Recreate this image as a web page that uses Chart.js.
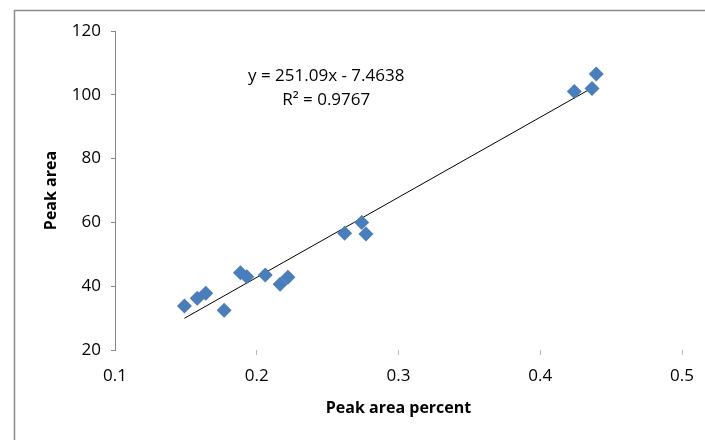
<!DOCTYPE html>
<html>
<head>
<meta charset="utf-8">
<script src="https://cdn.jsdelivr.net/npm/chart.js@4"></script>
<style>
  html, body { margin: 0; padding: 0; background: #fff; }
  canvas { display: block; }
</style>
</head>
<body>
<canvas id="peak" width="705" height="440"></canvas>
<script>
const chartCanvas = document.getElementById('peak');

// peak area percent (x) vs peak area (y)
var percent = [0.149, 0.158, 0.164, 0.177, 0.1885, 0.193, 0.206, 0.2165, 0.222,
               0.262, 0.274, 0.277, 0.424, 0.4365, 0.4395];
var area = [33.8, 36.2, 37.8, 32.5, 44.2, 43.0, 43.5, 40.6, 42.8,
            56.6, 60.0, 56.4, 101.0, 102.0, 106.5];

// linear trendline as printed on the chart
var slope = 251.09;
var intercept = -7.4638;
var equationText = 'y = 251.09x - 7.4638';
var r2Text = 'R\u00B2 = 0.9767';

var xMin = Math.min.apply(null, percent);
var xMax = Math.max.apply(null, percent);
var trend = [
  { x: xMin, y: slope * xMin + intercept },
  { x: xMax, y: slope * xMax + intercept }
];

var points = percent.map(function(p, i) {
  return { x: p, y: area[i] };
});

const axisGrey = '#868686';
const fontFamily = "'Open Sans', 'Liberation Sans', sans-serif";

// grey frame of the chart object, only top and left edges show
const framePlugin = {
  id: 'frame',
  beforeDraw(chart) {
    const ctx = chart.ctx;
    ctx.save();
    ctx.fillStyle = '#ffffff';
    ctx.fillRect(0, 0, chart.width, chart.height);
    ctx.strokeStyle = '#8c8c8c';
    ctx.lineWidth = 1.5;
    ctx.beginPath();
    ctx.moveTo(14.5, chart.height + 5);
    ctx.lineTo(14.5, 10.5);
    ctx.lineTo(chart.width + 5, 10.5);
    ctx.stroke();
    ctx.restore();
  }
};

// trendline label
const equationPlugin = {
  id: 'equation',
  afterDatasetsDraw(chart) {
    const ctx = chart.ctx;
    const xs = chart.scales.x;
    const ys = chart.scales.y;
    const cx = xs.getPixelForValue(0.249);
    ctx.save();
    ctx.fillStyle = '#000';
    ctx.font = '17px ' + fontFamily;
    ctx.textAlign = 'center';
    ctx.textBaseline = 'middle';
    ctx.fillText(equationText, cx, ys.getPixelForValue(106.0));
    ctx.fillText(r2Text, cx, ys.getPixelForValue(98.4));
    ctx.restore();
  }
};

const peakData = {
  datasets: [
    {
      label: 'Peak area',
      data: points,
      pointStyle: 'rectRot',
      pointRadius: 7.5,
      pointHoverRadius: 7.5,
      backgroundColor: '#4a7ebb',
      borderColor: '#4a7ebb',
      borderWidth: 0,
      showLine: false,
      order: 1
    },
    {
      label: 'Linear',
      type: 'line',
      data: trend,
      borderColor: '#000',
      borderWidth: 1,
      pointRadius: 0,
      fill: false,
      order: 2
    }
  ]
};

const peakConfig = {
  type: 'scatter',
  data: peakData,
  options: {
    responsive: false,
    animation: false,
    layout: {
      padding: { top: 31, right: 18, bottom: 0, left: 0 }
    },
    plugins: {
      legend: { display: false },
      tooltip: { enabled: false }
    },
    scales: {
      x: {
        type: 'linear',
        min: 0.1,
        max: 0.5,
        ticks: {
          stepSize: 0.1,
          color: '#000',
          padding: 11,
          font: { family: fontFamily, size: 17 },
          callback: function(v) { return v.toFixed(1); }
        },
        border: { display: false },
        grid: {
          drawOnChartArea: false,
          tickLength: 5,
          color: function(c) { return c.index === 0 ? 'rgba(0,0,0,0)' : '#b8b8b8'; }
        },
        title: {
          display: true,
          text: 'Peak area percent',
          color: '#000',
          padding: { top: 0, bottom: 22 },
          font: { family: fontFamily, size: 16, weight: 'bold' }
        },
        afterFit: function(scale) { scale.height = 90; }
      },
      y: {
        type: 'linear',
        min: 20,
        max: 120,
        ticks: {
          stepSize: 20,
          color: '#000',
          padding: 10,
          font: { family: fontFamily, size: 17 }
        },
        border: { display: true, color: axisGrey },
        grid: {
          drawOnChartArea: false,
          tickLength: 4,
          color: axisGrey
        },
        title: {
          display: true,
          text: 'Peak area',
          color: '#000',
          padding: { top: 42, bottom: 0 },
          font: { family: fontFamily, size: 16, weight: 'bold' }
        },
        afterFit: function(scale) { scale.width = 115; }
      }
    }
  },
  plugins: [framePlugin, equationPlugin]
};

new Chart(chartCanvas, peakConfig);
</script>
</body>
</html>
